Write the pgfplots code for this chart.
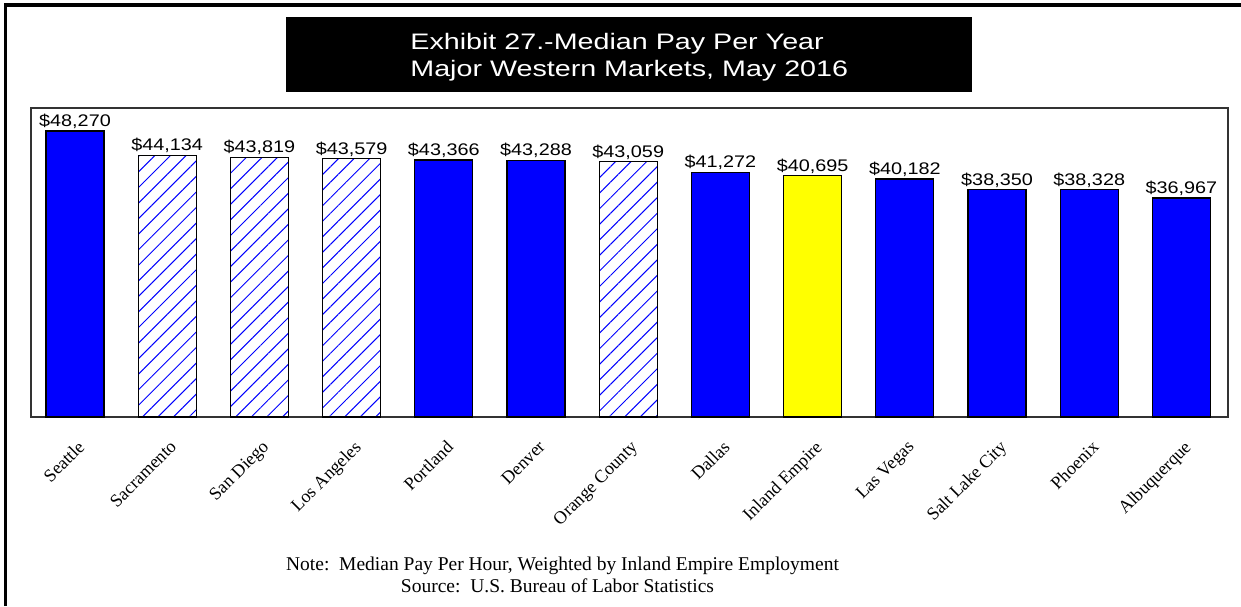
\documentclass[border=0pt]{standalone}
\usepackage{pgfplots}
\pgfplotsset{compat=1.18}
\usepackage{pgfplotstable}
\usepackage{fontspec}
\setmainfont{Liberation Serif}
\setsansfont{Liberation Sans}
\newfontfamily\titlefont[FakeStretch=1.28]{Liberation Sans}
\newfontfamily\lblfont[FakeStretch=1.18]{Liberation Sans}
\usetikzlibrary{patterns.meta}
\definecolor{pureblue}{RGB}{0,0,255}
\definecolor{pureyellow}{RGB}{255,255,0}

\pgfplotstableread{
x y
0 48270
4 43366
5 43288
7 41272
9 40182
10 38350
11 38328
12 36967
}\solid
\pgfplotstableread{
x y
1 44134
2 43819
3 43579
6 43059
}\hatched
\pgfplotstableread{
x y
8 40695
}\inland

\begin{document}
\begin{tikzpicture}
\useasboundingbox (0pt,0pt) rectangle (620.5pt,303pt);
\draw[line width=1.6pt] (2.8pt,0pt) -- (2.8pt,300.5pt) -- (620.5pt,300.5pt);
\fill[black] (142.85pt,256.85pt) rectangle (486pt,294.65pt);
\node[anchor=base west, inner sep=0pt, text=white, font=\titlefont\fontsize{11.2}{12}\selectfont] at (205pt,278.35pt) {Exhibit 27.-Median Pay Per Year};
\node[anchor=base west, inner sep=0pt, text=white, font=\titlefont\fontsize{11.2}{12}\selectfont] at (205pt,264.5pt) {Major Western Markets, May 2016};
\begin{axis}[
  at={(15.5pt,94.5pt)}, anchor=south west,
  scale only axis, width=598.5pt, height=154.5pt,
  xmin=-0.477, xmax=12.505, ymin=0, ymax=52150,
  ybar, bar width=0.63, bar shift=0pt,
  axis line style={draw=black!80, line width=0.8pt},
  ytick=\empty,
  xtick={0,1,2,3,4,5,6,7,8,9,10,11,12},
  xticklabels={Seattle, Sacramento, San Diego, Los Angeles, Portland, Denver, Orange County, Dallas, Inland Empire, Las Vegas, Salt Lake City, Phoenix, Albuquerque},
  major tick length=0pt,
  xticklabel style={font=\fontsize{9}{10}\selectfont, inner sep=0pt, xshift=0.8pt, yshift=-11pt, rotate=45, anchor=north east},
  clip=false,
  nodes near coords={\$\pgfmathprintnumber[fixed, precision=0, 1000 sep={,}, assume math mode=true]{\pgfplotspointmeta}},
  every node near coord/.append style={font=\lblfont\fontsize{8.4}{9}\selectfont, inner sep=1pt, text=black, anchor=south},
]
\addplot[draw=black, line width=0.6pt, fill=pureblue] table[x=x,y=y] {\solid};
\addplot[draw=black, line width=0.6pt, pattern={Lines[angle=45,distance=5.5pt,line width=0.5pt]}, pattern color=pureblue] table[x=x,y=y] {\hatched};
\addplot[draw=black, line width=0.6pt, fill=pureyellow] table[x=x,y=y] {\inland};
\end{axis}
\node[anchor=base, inner sep=0pt, font=\fontsize{9.75}{11}\selectfont] at (281.25pt,18pt) {Note:\ \ Median Pay Per Hour, Weighted by Inland Empire Employment};
\node[anchor=base, inner sep=0pt, font=\fontsize{9.75}{11}\selectfont] at (278.75pt,7pt) {Source:\ \ U.S. Bureau of Labor Statistics};
\end{tikzpicture}
\end{document}
